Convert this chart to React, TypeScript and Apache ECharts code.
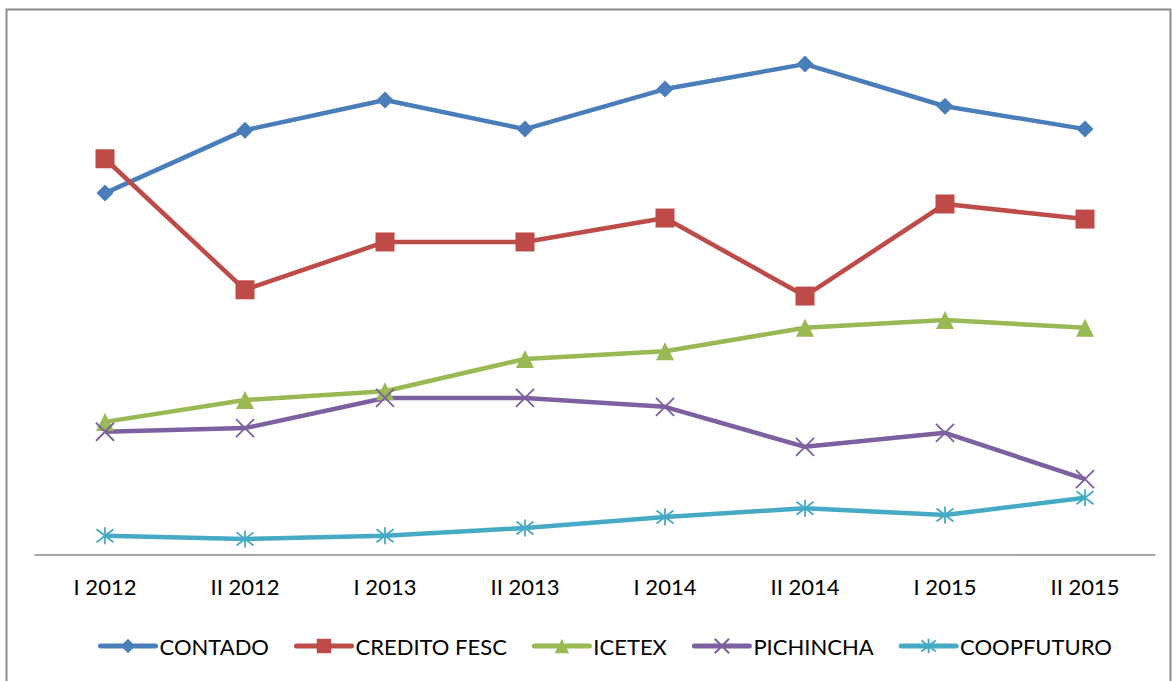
import React, { useEffect, useRef } from "react";
import * as echarts from "echarts";

const categories = ["I 2012", "II 2012", "I 2013", "II 2013", "I 2014", "II 2014", "I 2015", "II 2015"];
const contado = [69.6, 81.7, 87.5, 81.9, 89.6, 94.4, 86.3, 81.9];
const creditoFesc = [76.2, 51.0, 60.2, 60.2, 64.8, 49.8, 67.5, 64.6];
const icetex = [25.6, 29.8, 31.5, 37.7, 39.2, 43.7, 45.2, 43.7];
const pichincha = [23.7, 24.4, 30.2, 30.2, 28.5, 20.8, 23.5, 14.6];
const coopfuturo = [3.7, 3.1, 3.7, 5.2, 7.3, 9.0, 7.7, 11.0];

const X_PATH = "path://M0,0L10,10M10,0L0,10";
const STAR_PATH = "path://M0,0L10,10M10,0L0,10M5,-1.5L5,11.5";

export default function App() {
  const ref = useRef<HTMLDivElement>(null);
  useEffect(() => {
    document.body.style.margin = "0";
    const chart = echarts.init(ref.current!, null, { renderer: "svg" });
    const mk = (name: string, data: number[], color: string, symbol: string, size: number, stroke = false) => ({
      name,
      type: "line",
      data,
      symbol,
      symbolSize: size,
      lineStyle: { color, width: 4.5 },
      itemStyle: stroke
        ? { color, borderColor: color, borderWidth: 1.8 }
        : { color, borderColor: color, borderWidth: 0 },
      emphasis: { disabled: true },
    });
    chart.setOption({
      animation: false,
      backgroundColor: "#fff",
      graphic: [
        {
          type: "rect",
          shape: { x: 6.5, y: 9.5, width: 1164, height: 690 },
          style: { fill: "none", stroke: "#8c8c8c", lineWidth: 2 },
          silent: true,
        },
      ],
      grid: { left: 35, right: 17, top: 35, bottom: 126, containLabel: false },
      xAxis: {
        type: "category",
        data: categories,
        boundaryGap: true,
        axisLine: { lineStyle: { color: "#8c8c8c", width: 1.5 } },
        axisTick: { show: false },
        axisLabel: {
          color: "#000",
          fontFamily: "Lato",
          fontSize: 22,
          margin: 20,
          interval: 0,
        },
      },
      yAxis: {
        type: "value",
        min: 0,
        max: 100,
        show: false,
        splitLine: { show: false },
      },
      legend: {
        left: 93,
        top: 630,
        itemWidth: 55,
        itemHeight: 18,
        itemGap: 25,
        lineStyle: { width: 5, cap: "round" },
        textStyle: { color: "#000", fontFamily: "Lato", fontSize: 22, padding: [0, 0, 0, -1] },
        data: ["CONTADO", "CREDITO FESC", "ICETEX", "PICHINCHA", "COOPFUTURO"],
      },
      series: [
        mk("CONTADO", contado, "#4a7ebb", "diamond", 17),
        mk("CREDITO FESC", creditoFesc, "#be4b48", "rect", 19),
        mk("ICETEX", icetex, "#98b954", "triangle", 18),
        mk("PICHINCHA", pichincha, "#7d60a0", X_PATH, 18, true),
        mk("COOPFUTURO", coopfuturo, "#46aac5", STAR_PATH, 17, true),
      ],
    });
    return () => chart.dispose();
  }, []);
  return <div ref={ref} style={{ position: "absolute", left: 0, top: 0, width: 1172, height: 681 }} />;
}
